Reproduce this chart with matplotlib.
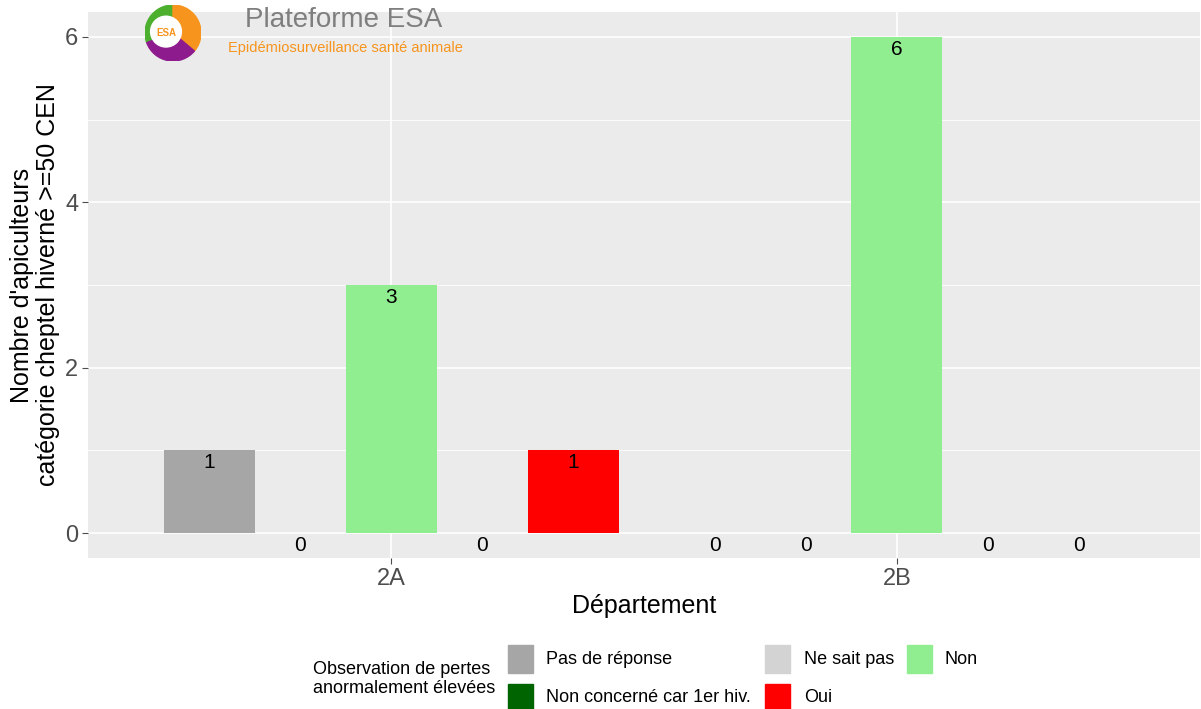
import matplotlib.pyplot as plt
import numpy as np
from matplotlib.patches import Wedge, Circle

plt.rcParams['font.family'] = ['Liberation Sans', 'DejaVu Sans']

# counts per department, one list per answer
departements = ['2A', '2B']
reponses = ['Pas de réponse', 'Ne sait pas', 'Non', 'Non concerné car 1er hiv.', 'Oui']
couleurs = ['#A6A6A6', '#D3D3D3', '#90EE90', '#006400', '#FF0000']
pas_de_reponse = [1, 0]
ne_sait_pas = [0, 0]
non = [3, 6]
non_concerne = [0, 0]
oui = [1, 0]
series = [pas_de_reponse, ne_sait_pas, non, non_concerne, oui]

fig = plt.figure(figsize=(12.01, 7.09), dpi=100)
ax = fig.add_axes([0.0733, 0.213, 0.926, 0.770])
ax.set_facecolor('#EBEBEB')

x = np.arange(1, len(departements) + 1)
w = 0.9 / len(reponses)
for i, (vals, col) in enumerate(zip(series, couleurs)):
    pos = x + (i - 2) * w
    ax.bar(pos, vals, width=w, color=col, zorder=3)
    for p, v in zip(pos, vals):
        ax.annotate(str(v), (p, v), xytext=(0, -2), textcoords='offset points',
                    ha='center', va='top', fontsize=15, color='black', zorder=4)

ax.set_xlim(0.4, 2.6)
ax.set_ylim(-0.3, 6.3)
ax.set_xticks(x)
ax.set_xticklabels(departements)
ax.set_yticks([0, 2, 4, 6])
ax.set_yticks([1, 3, 5], minor=True)
ax.grid(True, which='major', color='white', linewidth=1.2, zorder=0)
ax.grid(True, which='minor', axis='y', color='white', linewidth=0.6, zorder=0)
ax.set_axisbelow(True)
for s in ax.spines.values():
    s.set_visible(False)
ax.tick_params(which='major', length=4, color='#4D4D4D', labelsize=17, labelcolor='#4D4D4D', pad=3)
ax.tick_params(which='minor', length=0)
ax.set_xlabel('Département', fontsize=18, labelpad=3)
ax.set_ylabel("Nombre d'apiculteurs\ncatégorie cheptel hiverné >=50 CEN", fontsize=18,
              labelpad=4, linespacing=1.1)

# legend laid out by hand, ggplot style
fig.text(313 / 1201, 1 - 679 / 709, 'Observation de pertes\nanormalement élevées',
         ha='left', va='center', fontsize=13, linespacing=1.2)
slots = [(508, 645, 546), (765, 645, 804), (907, 645, 945), (508, 684, 546), (765, 684, 804)]
for (kx, ky, tx), lab, col in zip(slots, reponses, couleurs):
    fig.patches.append(plt.Rectangle((kx / 1201, 1 - (ky + 28) / 709), 25 / 1201, 28 / 709,
                                     transform=fig.transFigure, color=col, figure=fig))
    fig.text(tx / 1201, 1 - (ky + 14) / 709, lab, ha='left', va='center', fontsize=13)

# logo in the top left corner
lx, ly, r = 173 / 1201, 1 - 33 / 709, 28
fax = fig.add_axes([lx - r / 1201, ly - r / 709, 2 * r / 1201, 2 * r / 709])
fax.set_xlim(-1, 1)
fax.set_ylim(-1, 1)
fax.axis('off')
fax.add_patch(Wedge((0, 0), 1, 90, 200, color='#4CAF2E'))
fax.add_patch(Wedge((0, 0), 1, -40, 90, color='#F7941D'))
fax.add_patch(Wedge((0, 0), 1, 200, 320, color='#8E1B8E'))
fax.add_patch(Circle((-0.25, 0.05), 0.55, color='white'))
fax.text(-0.25, 0.0, 'ESA', ha='center', va='center', fontsize=7, color='#F7941D',
         fontweight='bold')
fig.text(245 / 1201, 1 - 20 / 709, 'Plateforme ESA', ha='left', va='center',
         fontsize=20, color='#7F7F7F')
fig.text(228 / 1201, 1 - 48 / 709, 'Epidémiosurveillance santé animale', ha='left', va='center',
         fontsize=10.5, color='#F7941D')

fig.savefig('out.png', dpi=100)
